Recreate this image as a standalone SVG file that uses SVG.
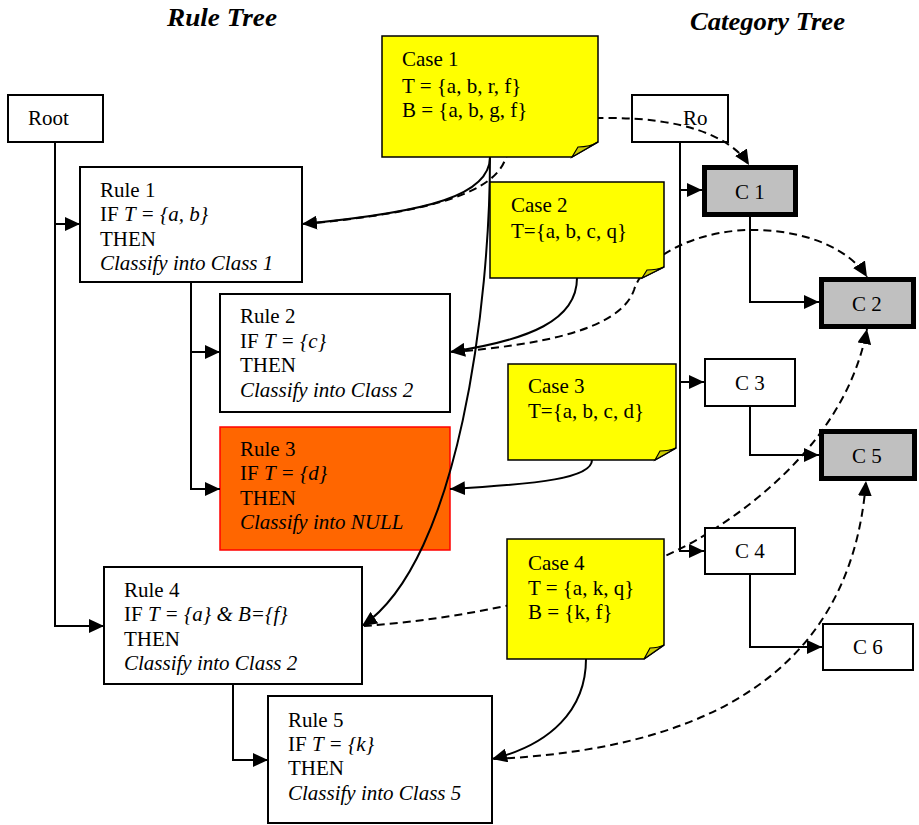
<svg xmlns="http://www.w3.org/2000/svg" width="919" height="825" viewBox="0 0 919 825">
<defs>
<marker id="ah" markerWidth="15" markerHeight="14" refX="15" refY="7" orient="auto" markerUnits="userSpaceOnUse"><path d="M0,0 L15,7 L0,14 z" fill="#000"/></marker>
<style>
text{font-family:"Liberation Serif","Times New Roman",serif;font-size:21px;fill:#000}
.it{font-style:italic}
.title{font-weight:bold;font-style:italic;font-size:26px}
.box{fill:#fff;stroke:#000;stroke-width:2}
.cat{fill:#fff;stroke:#000;stroke-width:2}
.catsel{fill:#c0c0c0;stroke:#000;stroke-width:5}
.note{fill:#ffff00;stroke:#000;stroke-width:1.5}
.fold{fill:#cccc00;stroke:#000;stroke-width:1.2}
.ln{fill:none;stroke:#000;stroke-width:2}
.dash{fill:none;stroke:#000;stroke-width:2;stroke-dasharray:8,5}
.ctr{text-anchor:middle}
</style>
</defs>
<rect width="919" height="825" fill="#fff"/>
<text class="title" x="167" y="26" textLength="110" lengthAdjust="spacingAndGlyphs">Rule Tree</text>
<text class="title" x="690" y="30" textLength="155" lengthAdjust="spacingAndGlyphs">Category Tree</text>

<g id="root"><rect class="box" x="8" y="95" width="95" height="47"/><text x="28" y="125">Root</text></g>
<g id="rule1"><rect class="box" x="80" y="167" width="222" height="115"/>
<text x="100" y="197">Rule 1</text><text x="100" y="221">IF <tspan class="it">T = {a, b}</tspan></text><text x="100" y="246">THEN</text><text x="100" y="270" class="it">Classify into Class 1</text></g>
<g id="rule2"><rect class="box" x="220" y="294" width="230" height="118"/>
<text x="240" y="323">Rule 2</text><text x="240" y="348">IF <tspan class="it">T = {c}</tspan></text><text x="240" y="372">THEN</text><text x="240" y="397" class="it">Classify into Class 2</text></g>
<g id="rule3"><rect x="220" y="427" width="230" height="123" fill="#ff6600" stroke="#ff0000" stroke-width="1.5"/>
<text x="240" y="456">Rule 3</text><text x="240" y="480">IF <tspan class="it">T = {d}</tspan></text><text x="240" y="505">THEN</text><text x="240" y="529" class="it">Classify into NULL</text></g>
<g id="rule4"><rect class="box" x="104" y="567" width="258" height="117"/>
<text x="124" y="597">Rule 4</text><text x="124" y="621">IF <tspan class="it">T = {a} &amp; B={f}</tspan></text><text x="124" y="646">THEN</text><text x="124" y="670" class="it">Classify into Class 2</text></g>
<g id="rule5"><rect class="box" x="268" y="696" width="224" height="127"/>
<text x="288" y="727">Rule 5</text><text x="288" y="751">IF <tspan class="it">T = {k}</tspan></text><text x="288" y="775">THEN</text><text x="288" y="800" class="it">Classify into Class 5</text></g>
<g id="ro"><rect class="box" x="632" y="95" width="96" height="47"/><text x="683" y="125">Ro</text></g>

<g id="connectors">
<path class="ln" d="M55,142 V626 H104" marker-end="url(#ah)"/>
<path class="ln" d="M55,224 H80" marker-end="url(#ah)"/>
<path class="ln" d="M191,282 V489 H220" marker-end="url(#ah)"/>
<path class="ln" d="M191,352 H220" marker-end="url(#ah)"/>
<path class="ln" d="M233,684 V760 H268" marker-end="url(#ah)"/>
<path class="ln" d="M680,142 V551 H704" marker-end="url(#ah)"/>
<path class="ln" d="M680,190 H702" marker-end="url(#ah)"/>
<path class="ln" d="M680,382 H704" marker-end="url(#ah)"/>
<path class="ln" d="M750,217 V302 H819" marker-end="url(#ah)"/>
<path class="ln" d="M750,407 V455 H819" marker-end="url(#ah)"/>
<path class="ln" d="M750,575 V647 H822" marker-end="url(#ah)"/>
<path class="ln" d="M490,157 C490,195 430,212 302,224" marker-end="url(#ah)"/>
<path class="ln" d="M490,157 C490,300 460,560 362,626" marker-end="url(#ah)"/>
<path class="ln" d="M577,278 C577,320 530,340 450,352" marker-end="url(#ah)"/>
<path class="ln" d="M592,460 C592,478 540,484 450,489" marker-end="url(#ah)"/>
<path class="ln" d="M586,659 C586,710 550,745 492,759" marker-end="url(#ah)"/>
<path class="dash" d="M304,224 C400,215 490,200 505,160 S560,118 610,118 C680,118 730,135 749,165" marker-end="url(#ah)"/>
<path class="dash" d="M452,352 C540,345 620,330 634,290 C645,255 700,228 760,230 C810,232 850,250 867,277" marker-end="url(#ah)"/>
<path class="dash" d="M364,626 C480,618 620,585 700,538 C780,490 850,420 867,329" marker-end="url(#ah)"/>
<path class="dash" d="M494,759 C680,750 850,690 866,481" marker-end="url(#ah)"/>
</g>

<g id="case1"><path class="note" d="M382,36 H598 V142 L572,157 H382 Z"/><path class="fold" d="M572,157 L578,147 Q590,147 598,142 Z"/>
<text x="402" y="66">Case 1</text><text x="402" y="93">T = {a, b, r, f}</text><text x="402" y="117">B = {a, b, g, f}</text></g>
<g id="case2"><path class="note" d="M490,182 H664 V267 L642,278 H490 Z"/><path class="fold" d="M642,278 L647,270 Q657,270 664,267 Z"/>
<text x="511" y="212">Case 2</text><text x="511" y="238">T={a, b, c, q}</text></g>
<g id="case3"><path class="note" d="M508,364 H676 V448 L655,460 H508 Z"/><path class="fold" d="M655,460 L660,451 Q669,451 676,448 Z"/>
<text x="528" y="393">Case 3</text><text x="528" y="418">T={a, b, c, d}</text></g>
<g id="case4"><path class="note" d="M507,539 H664 V645 L644,659 H507 Z"/><path class="fold" d="M644,659 L650,648 Q658,648 664,645 Z"/>
<text x="528" y="570">Case 4</text><text x="528" y="595">T = {a, k, q}</text><text x="528" y="619">B = {k, f}</text></g>

<g id="c1"><rect class="catsel" x="704.5" y="167.5" width="91" height="47"/><text class="ctr" x="750" y="199">C 1</text></g>
<g id="c2"><rect class="catsel" x="821.5" y="279.5" width="92" height="47"/><text class="ctr" x="867" y="311">C 2</text></g>
<g id="c3"><rect class="cat" x="705" y="359" width="90" height="47"/><text class="ctr" x="750" y="390">C 3</text></g>
<g id="c5"><rect class="catsel" x="821.5" y="431.5" width="93" height="47"/><text class="ctr" x="867" y="463">C 5</text></g>
<g id="c4"><rect class="cat" x="705" y="528" width="90" height="46"/><text class="ctr" x="750" y="558">C 4</text></g>
<g id="c6"><rect class="cat" x="823" y="624" width="90" height="46"/><text class="ctr" x="868" y="654">C 6</text></g>
</svg>
